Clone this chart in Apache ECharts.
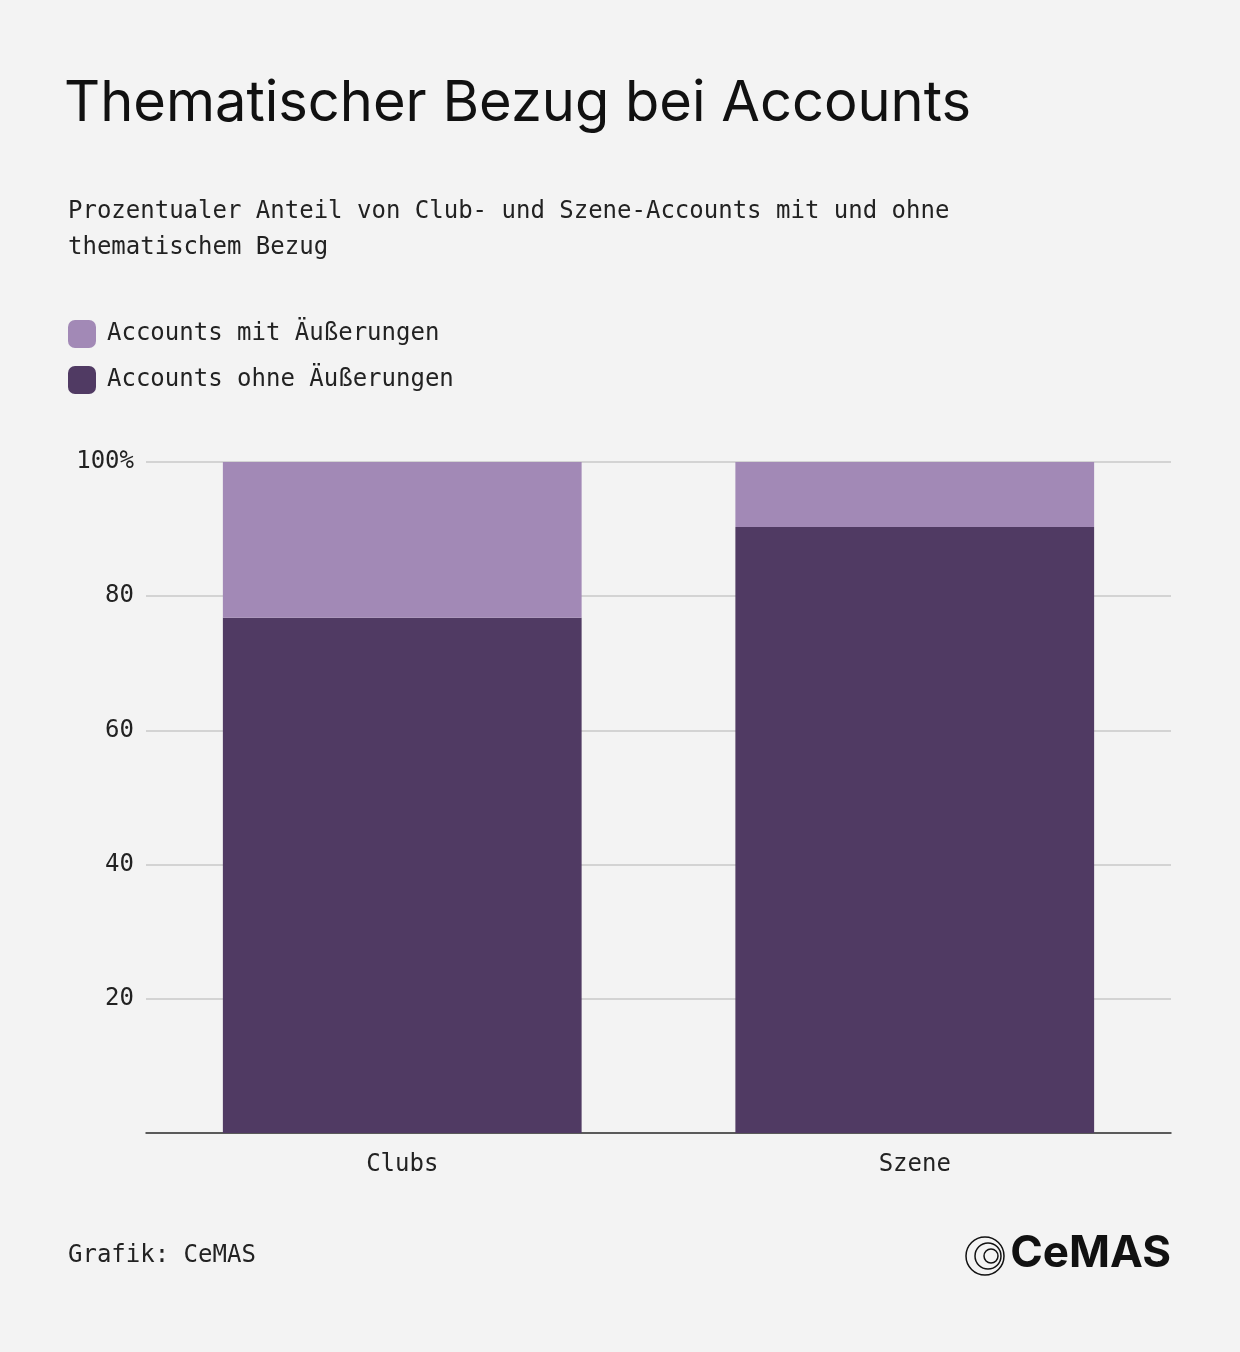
<!DOCTYPE html>
<html>
<head>
<meta charset="utf-8">
<script src="https://cdn.jsdelivr.net/npm/echarts@6/dist/echarts.min.js"></script>
<style>
  html, body { margin: 0; padding: 0; background: #f3f3f3; }
  #chart { width: 1240px; height: 1352px; }
</style>
</head>
<body>
<div id="chart"></div>
<script>
const categories = ['Clubs', 'Szene'];
const ohneValues = [76.8, 90.3];
const mitValues = [23.2, 9.7];
const yTicks = [20, 40, 60, 80, 100];

const chart = echarts.init(document.getElementById('chart'));
const font = 'Inter, "Noto Sans", sans-serif';
const mono = '"DejaVu Sans Mono", "Liberation Mono", monospace';

chart.setOption({
    backgroundColor: '#f3f3f3',
    animation: false,
    textStyle: { fontFamily: mono },
    title: [
        {
            text: 'Thematischer Bezug bei Accounts',
            left: 64, top: 76, padding: 0,
            textStyle: { fontSize: 56, fontWeight: 'normal', color: '#111', fontFamily: font }
        },
        {
            text: 'Prozentualer Anteil von Club- und Szene-Accounts mit und ohne\nthematischem Bezug',
            left: 68, top: 194, padding: 0,
            textStyle: { fontSize: 24, fontWeight: 'normal', color: '#222', lineHeight: 36, fontFamily: mono }
        },
        {
            text: 'Grafik: CeMAS',
            left: 68, top: 1244, padding: 0,
            textStyle: { fontSize: 24, fontWeight: 'normal', color: '#222', fontFamily: mono }
        },
        {
            text: 'CeMAS',
            right: 69, top: 1232, padding: 0,
            textStyle: { fontSize: 44, fontWeight: 'bold', color: '#111', fontFamily: font }
        }
    ],
    graphic: [
        { type: 'circle', shape: { cx: 985, cy: 1256, r: 19 }, style: { fill: 'none', stroke: '#111', lineWidth: 1.5 } },
        { type: 'circle', shape: { cx: 988, cy: 1256, r: 13 }, style: { fill: 'none', stroke: '#111', lineWidth: 1.5 } },
        { type: 'circle', shape: { cx: 991, cy: 1256, r: 7 }, style: { fill: 'none', stroke: '#111', lineWidth: 1.5 } }
    ],
    legend: {
        left: 68, top: 320, padding: 0,
        orient: 'vertical',
        itemWidth: 28, itemHeight: 28, itemGap: 18,
        icon: 'roundRect',
        data: ['Accounts mit Äußerungen', 'Accounts ohne Äußerungen'],
        textStyle: { fontSize: 24, color: '#222', padding: [0, 0, 0, 6], fontFamily: mono }
    },
    grid: { left: 146, right: 69, top: 462, bottom: 219 },
    xAxis: {
        type: 'category',
        data: categories,
        axisLine: { lineStyle: { color: '#333', width: 1.5 } },
        axisTick: { show: false },
        axisLabel: { fontSize: 24, color: '#222', margin: 20, fontFamily: mono }
    },
    yAxis: {
        type: 'value',
        min: 0, max: 100, interval: 20,
        axisLine: { show: false },
        axisTick: { show: false },
        splitLine: { lineStyle: { color: '#c8c8c8', width: 1.5 } },
        axisLabel: {
            fontSize: 24, color: '#222', margin: 12, fontFamily: mono,
            formatter: v => yTicks.indexOf(v) < 0 ? '' : (v === 100 ? '100%' : String(v))
        }
    },
    series: [
        {
            name: 'Accounts ohne Äußerungen',
            type: 'bar', stack: 'a',
            data: ohneValues,
            barWidth: '70%',
            itemStyle: { color: '#503a63' }
        },
        {
            name: 'Accounts mit Äußerungen',
            type: 'bar', stack: 'a',
            data: mitValues,
            itemStyle: { color: '#a289b6' }
        }
    ]
});
</script>
</body>
</html>
